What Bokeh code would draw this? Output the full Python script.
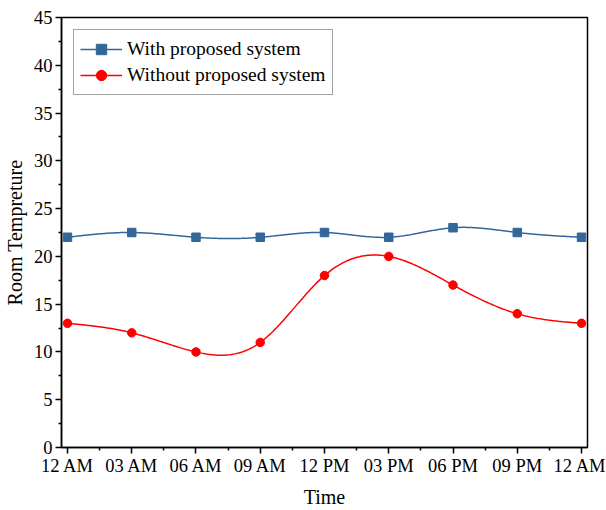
import numpy as np
from bokeh.plotting import figure
from bokeh.models import FixedTicker, Range1d, Legend, LegendItem
from bokeh.embed import file_html
from bokeh.resources import INLINE

times = ["12 AM", "03 AM", "06 AM", "09 AM", "12 PM", "03 PM", "06 PM", "09 PM", "12 AM"]
with_system = [22, 22.5, 22, 22, 22.5, 22, 23, 22.5, 22]
without_system = [13, 12, 10, 11, 18, 20, 17, 14, 13]

x = np.arange(len(times), dtype=float)


def natural_spline(xs, ys, n=400):
    xs = np.asarray(xs, float); ys = np.asarray(ys, float)
    k = len(xs)
    h = np.diff(xs)
    A = np.zeros((k, k)); b = np.zeros(k)
    A[0, 0] = 1; A[-1, -1] = 1
    for i in range(1, k - 1):
        A[i, i - 1] = h[i - 1]
        A[i, i] = 2 * (h[i - 1] + h[i])
        A[i, i + 1] = h[i]
        b[i] = 3 * ((ys[i + 1] - ys[i]) / h[i] - (ys[i] - ys[i - 1]) / h[i - 1])
    c = np.linalg.solve(A, b)
    bb = np.zeros(k - 1); d = np.zeros(k - 1)
    for i in range(k - 1):
        bb[i] = (ys[i + 1] - ys[i]) / h[i] - h[i] * (2 * c[i] + c[i + 1]) / 3
        d[i] = (c[i + 1] - c[i]) / (3 * h[i])
    xx = np.linspace(xs[0], xs[-1], n)
    idx = np.clip(np.searchsorted(xs, xx) - 1, 0, k - 2)
    dx = xx - xs[idx]
    yy = ys[idx] + bb[idx] * dx + c[idx] * dx ** 2 + d[idx] * dx ** 3
    return xx, yy


FONT = "Liberation Serif"
BLUE = "#336699"
RED = "#ff0000"

p = figure(width=606, height=510, output_backend="svg", toolbar_location=None,
           x_range=Range1d(-0.093, 8.093), y_range=Range1d(0, 45))
p.min_border_left = 61
p.min_border_right = 19
p.min_border_top = 17
p.min_border_bottom = 63
p.grid.visible = False
p.outline_line_color = "black"
p.outline_line_width = 1.5
p.background_fill_color = "white"
p.border_fill_color = "white"

bx, by = natural_spline(x, with_system)
rx, ry = natural_spline(x, without_system)
l1 = p.line(bx, by, line_color=BLUE, line_width=1.5)
s1 = p.scatter(x, with_system, marker="square", size=8.5, fill_color=BLUE, line_color=BLUE)
l2 = p.line(rx, ry, line_color=RED, line_width=1.5)
s2 = p.scatter(x, without_system, marker="circle", size=8.5, fill_color=RED, line_color=RED)

p.xaxis.ticker = FixedTicker(ticks=list(range(len(times))),
                             minor_ticks=[i + 0.5 for i in range(len(times) - 1)])
p.xaxis.major_label_overrides = {i: t for i, t in enumerate(times)}
p.yaxis.ticker = FixedTicker(ticks=list(range(0, 46, 5)),
                             minor_ticks=[i + 2.5 for i in range(0, 45, 5)])

for ax in (p.xaxis[0], p.yaxis[0]):
    ax.axis_line_color = "black"
    ax.axis_line_width = 1.5
    ax.major_tick_line_color = "black"
    ax.minor_tick_line_color = "black"
    ax.major_tick_line_width = 1.5
    ax.minor_tick_line_width = 1.5
    ax.major_tick_out = 6
    ax.major_tick_in = 0
    ax.minor_tick_out = 3
    ax.minor_tick_in = 0
    ax.major_label_text_font = FONT
    ax.major_label_text_font_size = "18.5px"
    ax.major_label_text_color = "black"
    ax.axis_label_text_font = FONT
    ax.axis_label_text_font_size = "20px"
    ax.axis_label_text_font_style = "normal"
    ax.axis_label_text_color = "black"

p.xaxis.axis_label = "Time"
p.yaxis.axis_label = "Room Tempreture"
p.xaxis.major_label_standoff = 2
p.yaxis.major_label_standoff = 3
p.xaxis.axis_label_standoff = 7
p.yaxis.axis_label_standoff = 5

legend = Legend(items=[
    LegendItem(label="With proposed system", renderers=[l1, s1]),
    LegendItem(label="Without proposed system", renderers=[l2, s2]),
], location="top_left")
legend.label_text_font = FONT
legend.label_text_font_size = "19.5px"
legend.label_text_color = "black"
legend.border_line_color = "#444444"
legend.border_line_width = 1.2
legend.margin = 12
legend.padding = 6
legend.spacing = 0
legend.glyph_width = 42
legend.glyph_height = 26
legend.label_height = 26
legend.label_standoff = 5
legend.background_fill_alpha = 1
p.add_layout(legend)

open("out.html", "w").write(file_html(p, INLINE))
